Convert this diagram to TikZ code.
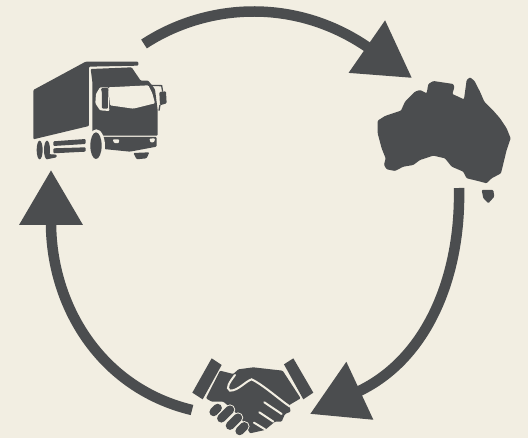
\documentclass[tikz,border=0pt]{standalone}
\usepackage{tikz}
\usetikzlibrary{arrows.meta}
\definecolor{fondo}{HTML}{F2EEE2}
\definecolor{oscuro}{HTML}{4B4D4F}
\tikzset{
	anillo/.style={draw=oscuro,line width=10.5pt},
	punta/.style={-{Triangle[length=55pt,width=61pt,color=oscuro]}},
	icono/.style={fill=oscuro,rounded corners=1pt},
	hueco/.style={fill=fondo,rounded corners=1pt},
	linea/.style={draw=fondo,line width=2pt,line cap=round},
	dedo/.style={draw=fondo,line width=10.5pt,line cap=round},
	yema/.style={draw=oscuro,line width=8.5pt,line cap=round}
}
\begin{document}
\begin{tikzpicture}[x=1pt,y=-1pt]
	% Fondo
	\fill[fondo] (0,0) rectangle (528,438);
	\useasboundingbox (0,0) rectangle (528,438);

	% Extremos de las flechas
	\coordinate (camion) at (144,44);
	\coordinate (mapa) at (412,78);
	\coordinate (tasmania) at (459,188);
	\coordinate (manos) at (310,414);
	\coordinate (puno) at (192,410);
	\coordinate (cabina) at (51,170);

	% Flechas del ciclo
	\draw[anillo,punta] (camion) .. controls (205,4) and (294,-4) .. (mapa);
	\draw[anillo,punta] (tasmania) .. controls (461,275) and (428,359) .. (manos);
	\draw[anillo,punta] (puno) .. controls (100,388) and (51,305) .. (cabina);

	% Camion
	\begin{scope}[shift={(20,50)},scale=0.3333]
		\fill[icono] (40,120) -- (197,35) -- (355,35) -- (355,47) -- (207,50) -- (207,228) -- (40,268) -- cycle;
		\fill[icono] (212,57) -- (335,52) -- (362,92) -- (385,92) -- (405,118) -- (413,180) -- (413,257)
			-- (217,257) -- (217,95) -- cycle;
		\fill[icono] (243,261) -- (410,261) -- (410,290) -- (330,305) -- (250,297) -- cycle;
		\fill[icono] (340,309) -- (388,307) -- (380,325) -- (350,328) -- cycle;
		% Parabrisas y retrovisores
		\fill[hueco] (265,112) -- (385,106) -- (397,130) -- (405,160) -- (340,176) -- (270,166) -- cycle;
		\fill[hueco] (228,132) -- (240,112) -- (265,112) -- (268,183) -- (240,181) -- (226,160) -- cycle;
		\fill[icono] (243,115) -- (264,113) -- (264,176) -- (246,176) -- (246,130) -- cycle;
		\fill[icono] (418,126) -- (438,124) -- (440,160) -- (420,166) -- cycle;
		\draw[oscuro,line width=1.3pt] (388,106) -- (425,107) -- (428,125);
		\draw[oscuro,line width=1.3pt] (420,165) -- (417,182);
		\fill[hueco] (278,268) -- (298,268) -- (296,280) -- (282,279) -- cycle;
		\fill[hueco] (388,266) -- (405,265) -- (403,276) -- (392,278) -- cycle;
		% Ruedas
		\fill[fondo] (229,288) ellipse (26 and 50);
		\fill[oscuro] (228,287) ellipse (17 and 40);
		\fill[oscuro] (59,300) ellipse (9 and 28);
		\fill[oscuro] (81,300) ellipse (9 and 28);
		\fill[icono] (80,312) -- (110,314) -- (110,322) -- (80,328) -- cycle;
		% Chasis
		\fill[icono] (100,274) -- (197,267) -- (197,282) -- (100,288) -- cycle;
		\fill[icono] (100,295) -- (197,292) -- (197,305) -- (100,310) -- cycle;
	\end{scope}

	% Australia
	\begin{scope}[shift={(365,70)},scale=0.3333]
		\fill[icono] (38,152) -- (60,138) -- (108,122) -- (120,95) -- (150,65) -- (165,60) -- (185,70)
			-- (190,42) -- (205,33) -- (265,42) -- (268,52) -- (262,72) -- (297,88) -- (305,30)
			-- (315,22) -- (328,32) -- (345,65) -- (358,95) -- (385,122) -- (405,145) -- (425,175)
			-- (437,205) -- (425,240) -- (408,310) -- (380,325) -- (365,340) -- (335,332) -- (305,325)
			-- (295,305) -- (260,290) -- (240,265) -- (205,257) -- (165,270) -- (145,285) -- (115,290)
			-- (90,303) -- (65,298) -- (57,285) -- (62,265) -- (50,235) -- (38,190) -- cycle;
		\fill[icono] (350,360) -- (385,360) -- (388,380) -- (370,400) -- (355,385) -- cycle;
	\end{scope}

	% Apreton de manos
	\begin{scope}[shift={(180,350)},scale=0.3333]
		\fill[oscuro] (95,25) -- (125,45) -- (68,148) -- (37,128) -- cycle;
		\fill[oscuro] (340,25) -- (312,43) -- (370,148) -- (400,128) -- cycle;
		\fill[icono] (120,62) -- (160,72) -- (175,58) -- (220,52) -- (308,62) -- (362,145) -- (328,165)
			-- (332,185) -- (315,192) -- (305,215) -- (285,215) -- (255,240) -- (210,250) -- (190,215)
			-- (160,180) -- (130,155) -- (95,155) -- (78,145) -- cycle;
		% Pulgar y separacion de los dedos
		\draw[linea] (165,75) .. controls (150,95) and (135,115) .. (150,122)
			.. controls (175,122) and (195,95) .. (215,88) .. controls (250,105) and (300,150) .. (330,170);
		\draw[linea] (253,157) -- (305,192);
		\draw[linea] (238,187) -- (280,215);
		\draw[linea] (222,218) -- (255,238);
		% Dedos
		\foreach \x/\y/\d in {107/180/6,137/192/13,162/215/12,186/236/7}{
			\draw[dedo] (\x+\d,\y-\d) -- (\x-\d,\y+\d);
			\draw[yema] (\x+\d,\y-\d) -- (\x-\d,\y+\d);
		}
	\end{scope}
\end{tikzpicture}
\end{document}
